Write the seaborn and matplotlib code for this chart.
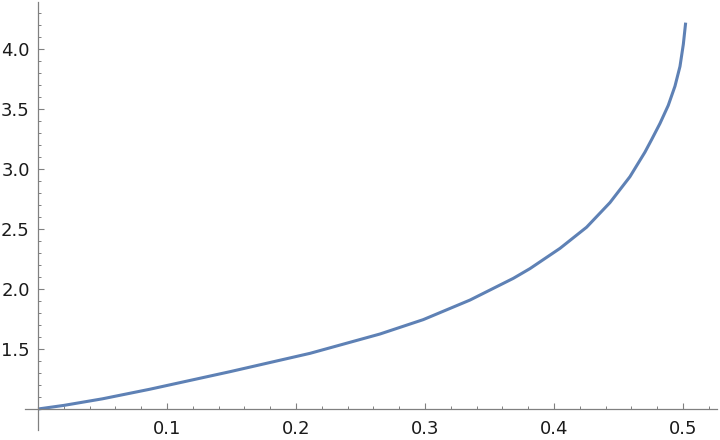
import numpy as np
import pandas as pd
import matplotlib
matplotlib.use("Agg")
import matplotlib.pyplot as plt
from matplotlib.ticker import FixedLocator
import seaborn as sns

# values
x_vals = [0.0, 0.02, 0.05, 0.0868, 0.1488, 0.2109, 0.2651, 0.2987, 0.3349,
          0.3685, 0.3814, 0.4047, 0.4253, 0.4434, 0.4589, 0.4705, 0.4757,
          0.4822, 0.4886, 0.4938, 0.4977, 0.5003, 0.5021]
y_vals = [1.0, 1.03, 1.085, 1.165, 1.311, 1.464, 1.625, 1.745, 1.908,
          2.089, 2.17, 2.339, 2.515, 2.72, 2.936, 3.14, 3.245,
          3.38, 3.53, 3.69, 3.855, 4.04, 4.22]
x_major = [0.1, 0.2, 0.3, 0.4, 0.5]
x_labels = ["0.1", "0.2", "0.3", "0.4", "0.5"]
y_major = [1.5, 2.0, 2.5, 3.0, 3.5, 4.0]
y_labels = ["1.5", "2.0", "2.5", "3.0", "3.5", "4.0"]

df = pd.DataFrame({"x": x_vals, "y": y_vals})

sns.set_style("ticks")
plt.rcParams["font.family"] = ["DejaVu Sans"]

fig = plt.figure(figsize=(7.2, 4.4), dpi=100)
ax = fig.add_axes([25 / 720, 1 - 430 / 440, (717 - 25) / 720, (430 - 2) / 440])

sns.lineplot(data=df, x="x", y="y", ax=ax, color="#5E81B5", linewidth=2.2,
             sort=False, estimator=None, solid_joinstyle="round",
             solid_capstyle="butt")

ax.set_xlim(-0.0101, 0.5264)
ax.set_ylim(0.825, 4.392)
ax.set_xlabel("")
ax.set_ylabel("")

axis_col = "#808080"
for s in ["top", "right"]:
    ax.spines[s].set_visible(False)
ax.spines["left"].set_position(("data", 0.0))
ax.spines["bottom"].set_position(("data", 1.0))
for s in ["left", "bottom"]:
    ax.spines[s].set_color(axis_col)
    ax.spines[s].set_linewidth(0.9)

ax.set_xticks(x_major)
ax.set_xticklabels(x_labels)
ax.set_yticks(y_major)
ax.set_yticklabels(y_labels)
ax.xaxis.set_minor_locator(FixedLocator([round(0.02 * i, 2) for i in range(1, 27) if i % 5 != 0]))
ax.yaxis.set_minor_locator(FixedLocator([round(1 + 0.1 * i, 1) for i in range(1, 34) if i % 5 != 0]))

ax.tick_params(axis="both", which="major", direction="in", length=4, width=0.8,
               color=axis_col, labelsize=13, labelcolor="#1a1a1a")
ax.tick_params(axis="both", which="minor", direction="in", length=2.2, width=0.7,
               color=axis_col)
ax.tick_params(axis="x", which="major", pad=8)
ax.tick_params(axis="y", which="major", pad=6)

fig.savefig("out.png", dpi=100)
